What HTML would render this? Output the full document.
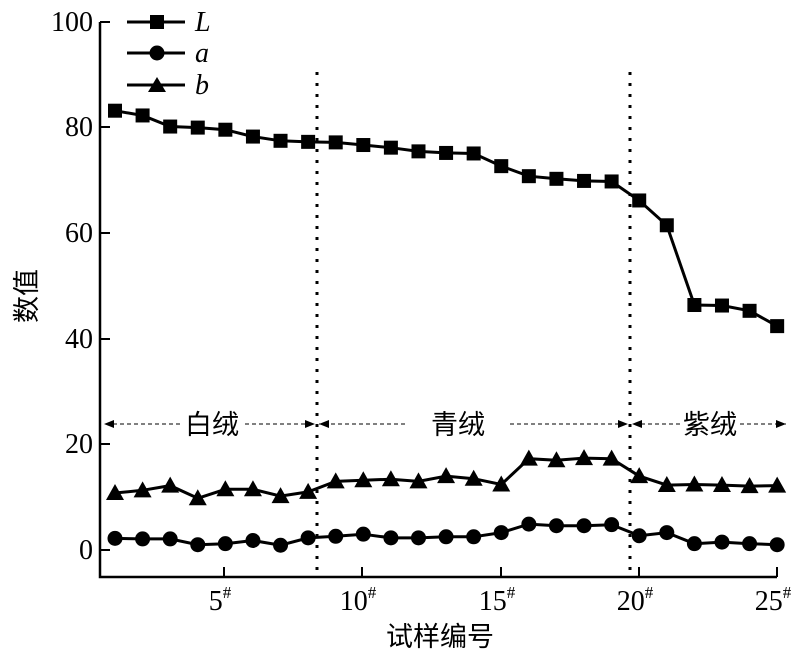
<!DOCTYPE html>
<html><head><meta charset="utf-8"><style>
html,body{margin:0;padding:0;background:#fff;}
svg{display:block;}
.sf{font-family:"Liberation Serif","Times New Roman","DejaVu Serif",serif;}
.cj{font-family:"Liberation Sans","Noto Sans CJK SC",sans-serif;}
</style></head><body>
<svg id="s" width="800" height="661" viewBox="0 0 800 661" xmlns="http://www.w3.org/2000/svg">
<defs>
<marker id="ar" markerWidth="10" markerHeight="8" refX="10" refY="4" orient="auto" markerUnits="userSpaceOnUse"><path d="M0,0 L10,4 L0,8 Z" fill="#000"/></marker>
</defs>
<g stroke="#000" stroke-width="2.5" fill="none">
<path d="M100,22 V577 H777"/>
</g>
<g stroke="#000" stroke-width="2">
<line x1="100" y1="22" x2="110" y2="22"/><line x1="100" y1="127" x2="110" y2="127"/>
<line x1="100" y1="233" x2="110" y2="233"/><line x1="100" y1="339" x2="110" y2="339"/>
<line x1="100" y1="444" x2="110" y2="444"/><line x1="100" y1="550" x2="110" y2="550"/>
<line x1="224" y1="577" x2="224" y2="567"/><line x1="362" y1="577" x2="362" y2="567"/>
<line x1="501" y1="577" x2="501" y2="567"/><line x1="639" y1="577" x2="639" y2="567"/>
<line x1="777" y1="577" x2="777" y2="567"/>
</g>
<g class="sf" font-family="Liberation Serif, Times New Roman, DejaVu Serif, serif" font-size="28" text-anchor="end">
<text x="93" y="31">100</text><text x="93" y="136">80</text><text x="93" y="242">60</text>
<text x="93" y="348">40</text><text x="93" y="453">20</text><text x="93" y="559">0</text>
</g>
<g class="sf" font-family="Liberation Serif, Times New Roman, DejaVu Serif, serif" font-size="28" text-anchor="middle">
<text x="220" y="610">5<tspan font-size="17" dy="-12">#</tspan></text>
<text x="358" y="610">10<tspan font-size="17" dy="-12">#</tspan></text>
<text x="497" y="610">15<tspan font-size="17" dy="-12">#</tspan></text>
<text x="635" y="610">20<tspan font-size="17" dy="-12">#</tspan></text>
<text x="773" y="610">25<tspan font-size="17" dy="-12">#</tspan></text>
</g>
<text class="cj" x="440" y="646" font-size="27" text-anchor="middle">试样编号</text>
<text class="cj" transform="translate(36,296) rotate(-90)" font-size="27" text-anchor="middle">数值</text>
<g stroke="#000" stroke-width="3" stroke-dasharray="3,8">
<line x1="317" y1="72" x2="317" y2="577"/><line x1="630" y1="72" x2="630" y2="577"/>
</g>
<g stroke="#000" stroke-width="1" stroke-dasharray="4,3" fill="none">
<line x1="180" y1="424" x2="104" y2="424" marker-end="url(#ar)"/>
<line x1="245" y1="424" x2="315" y2="424" marker-end="url(#ar)"/>
<line x1="405" y1="424" x2="319" y2="424" marker-end="url(#ar)"/>
<line x1="510" y1="424" x2="628" y2="424" marker-end="url(#ar)"/>
<line x1="680" y1="424" x2="632" y2="424" marker-end="url(#ar)"/>
<line x1="740" y1="424" x2="786" y2="424" marker-end="url(#ar)"/>
</g>
<g font-size="27" text-anchor="middle">
<rect x="180" y="408" width="64" height="32" fill="#fff"/><text class="cj" x="212" y="434">白绒</text>
<rect x="405" y="408" width="105" height="32" fill="#fff"/><text class="cj" x="458" y="434">青绒</text>
<rect x="680" y="408" width="60" height="32" fill="#fff"/><text class="cj" x="710" y="434">紫绒</text>
</g>
<g id="series"></g>
<g stroke="#000" stroke-width="3">
<line x1="127" y1="22" x2="185" y2="22"/><line x1="127" y1="53" x2="185" y2="53"/><line x1="127" y1="85" x2="185" y2="85"/>
</g>
<rect x="150" y="15" width="14" height="14" fill="#000"/>
<circle cx="157" cy="53" r="7.5" fill="#000"/>
<path d="M157,77 L166,92 L148,92 Z" fill="#000"/>
<g class="sf" font-family="Liberation Serif, Times New Roman, DejaVu Serif, serif" font-size="28" font-style="italic">
<text x="195" y="31">L</text><text x="195" y="62">a</text><text x="195" y="94">b</text>
</g>
</svg>
<script>
var L=[83.2,82.3,80.2,80.0,79.6,78.3,77.5,77.3,77.2,76.7,76.2,75.5,75.2,75.1,72.7,70.8,70.3,69.9,69.8,66.2,61.5,46.4,46.3,45.3,42.4];
var B=[10.8,11.3,12.2,9.8,11.5,11.5,10.2,11,13,13.2,13.4,13,14,13.5,12.4,17.3,17,17.4,17.3,14,12.3,12.4,12.3,12.1,12.2];
var A=[2.2,2.1,2.1,1.0,1.2,1.8,0.9,2.3,2.6,3.0,2.3,2.3,2.5,2.5,3.3,4.9,4.6,4.6,4.8,2.7,3.3,1.2,1.5,1.2,1.0];
function X(i){return 115+i*27.59;} function Y(v){return 550-v*5.28;}
var h='';
[[L,'s'],[A,'c'],[B,'t']].forEach(function(p){
 var d=p[0].map(function(v,i){return (i?'L':'M')+X(i).toFixed(1)+','+Y(v).toFixed(1);}).join(' ');
 h+='<path d="'+d+'" stroke="#000" stroke-width="3" fill="none"/>';
 p[0].forEach(function(v,i){var x=X(i),y=Y(v);
  if(p[1]=='s')h+='<rect x="'+(x-7)+'" y="'+(y-7)+'" width="14" height="14" fill="#000"/>';
  else if(p[1]=='c')h+='<circle cx="'+x+'" cy="'+y+'" r="7.5" fill="#000"/>';
  else h+='<path d="M'+x+','+(y-9)+' L'+(x+9)+','+(y+7)+' L'+(x-9)+','+(y+7)+' Z" fill="#000"/>';});
});
document.getElementById('series').innerHTML=h;
</script>
</body></html>
